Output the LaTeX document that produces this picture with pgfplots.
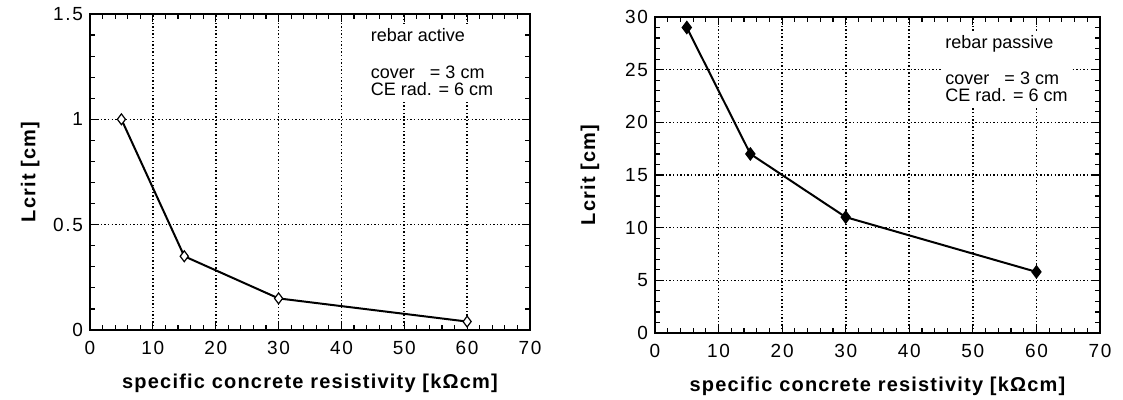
\documentclass[border=0pt]{standalone}
\usepackage{pgfplots}
\pgfplotsset{compat=1.18}
\usepackage{fontspec}
\setmainfont{Liberation Sans}
\newfontfamily\tickfont[LetterSpace=9]{Liberation Sans}
\newfontfamily\labfont[LetterSpace=6]{Liberation Sans Bold}

\pgfplotsset{
  rplot/.style={
    scale only axis,
    width=220pt, height=158pt,
    xmin=0, xmax=70,
    xtick={0,10,...,70},
    minor x tick num=4,
    minor y tick num=4,
    tick pos=both,
    tick align=inside,
    major tick length=4pt,
    minor tick length=2.5pt,
    axis line style={line width=0.9pt},
    every tick/.style={black, line width=0.6pt},
    grid=major,
    major grid style={black, line width=0.8pt, dash pattern=on 0.7pt off 1.1pt},
    /pgf/number format/assume math mode=true,
    ticklabel style={font=\tickfont\fontsize{9.5}{10}\selectfont},
    xticklabel style={yshift=-2pt},
    label style={font=\labfont\fontsize{10}{11}\selectfont},
    xlabel={specific concrete resistivity [kΩcm]},
    ylabel={Lcrit [cm]},
    xlabel style={yshift=-3pt},
    ylabel style={at={(axis description cs:-0.136,0.5)}, anchor=center},
    clip=false,
  },
}
\tikzset{
  note/.style={anchor=north west, fill=white, inner sep=2pt, align=left,
    font=\fontsize{9}{8.6}\selectfont},
}

\begin{document}
\begin{tikzpicture}
\path[use as bounding box] (-45pt,-35pt) rectangle (516.5pt,165pt);

\begin{axis}[rplot, at={(0pt,0pt)}, anchor=south west,
  ymin=0, ymax=1.5, ytick={0,0.5,1,1.5},
  yticklabels={0,0.5,1,1.5}]
\addplot[black, line width=1pt, mark=diamond*, mark size=2.7pt,
  mark options={fill=white, line width=0.6pt}]
  coordinates {(5,1.0) (15,0.35) (30,0.15) (60,0.04)};
\node[note] at (axis cs:44,1.45)
  {rebar active\\[9.5pt]cover\ \ \ = 3 cm\\CE rad. = 6 cm};
\end{axis}

\begin{axis}[rplot, at={(282.5pt,-1.5pt)}, anchor=south west,
  width=222.5pt,
  ymin=0, ymax=30, ytick={0,5,...,30},
  ylabel style={at={(axis description cs:-0.146,0.5)}}]
\addplot[black, line width=1pt, mark=diamond*, mark size=2.7pt,
  mark options={fill=black}]
  coordinates {(5,29) (15,17) (30,11) (60,5.8)};
\node[note] at (axis cs:45,28.7)
  {rebar passive\\[9.5pt]cover\ \ \ = 3 cm\\CE rad. = 6 cm};
\end{axis}
\end{tikzpicture}
\end{document}
